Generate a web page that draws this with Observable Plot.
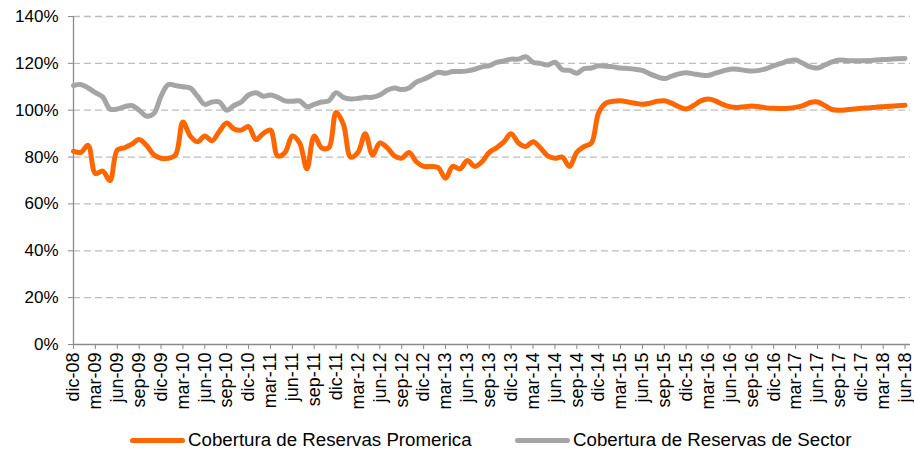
<!DOCTYPE html>
<html><head><meta charset="utf-8">
<script src="https://cdn.jsdelivr.net/npm/d3@7"></script>
<script src="https://cdn.jsdelivr.net/npm/@observablehq/plot@0.6"></script>
<style>
body{margin:0;background:#fff;font-family:"Liberation Sans",Arial,sans-serif;}
#legend{position:relative;height:40px;width:914px;}
.item{position:absolute;top:5px;height:40px;display:flex;align-items:center;font-size:18.7px;color:#000;white-space:nowrap;}
.sw{width:55px;height:5px;margin-right:3px;border-radius:2.5px;}
</style></head><body>
<div id="chart"></div>
<div id="legend"></div>
<script>
// Monthly values, dic-08 .. jun-18 (115 months)
const promerica = [
  82.5, 82, 85, 73, 74, 70, 83, 84, 85.5, 87.5, 85, 81, 79.5, 79.5, 81, 95, 89, 86.5, 89, 87, 91, 94.5, 92,
  91.5, 93, 87.5, 90, 91.5, 80.5, 82, 89, 86, 75, 89, 84, 84, 99, 94, 80, 82, 90, 81, 86, 84, 80.5, 79.5,
  82, 78, 76, 76, 75.5, 71, 76, 75, 78.5, 76, 78, 82, 84, 86.5, 90, 86, 84.5, 86.5, 84, 80.5, 79.5, 80, 76,
  82, 84.5, 86, 99, 103, 103.8, 104, 103.5, 103, 102.5, 103, 103.8, 104, 103, 101.5, 100.5, 102, 104, 104.8, 104, 102.5, 101.5,
  101.2, 101.5, 101.8, 101.5, 101, 100.8, 100.7, 100.8, 101.2, 102, 103.3, 103.5, 102, 100.3, 100, 100.2, 100.5, 100.8, 101, 101.3, 101.5, 101.7, 101.9, 102.1
];
const sector = [
  110.5, 111, 109.5, 107.5, 105.7, 100.5, 100.5, 101.5, 102, 100, 97.5, 98.5, 106, 111, 110.5, 110, 109.5, 106, 102.5, 103.5, 103.5, 100, 102,
  103.5, 106.5, 107.5, 106, 106.5, 105.5, 104, 103.8, 104, 101.5, 102.5, 103.5, 104, 107.5, 105.5, 104.8, 105, 105.5, 105.5, 106.5, 108.5, 109.5, 108.8,
  109.5, 112, 113.2, 114.7, 116.2, 115.8, 116.5, 116.5, 116.8, 117.5, 118.5, 119, 120.4, 121, 121.8, 121.8, 122.8, 120.5, 120, 119.3, 120.5, 117.3, 117,
  115.8, 117.8, 118, 119, 118.8, 118.5, 118, 117.8, 117.5, 117, 115.5, 114.3, 113.5, 114.5, 115.5, 116, 115.5, 115, 114.8, 115.8, 116.7, 117.5,
  117.5, 117, 116.7, 117, 117.8, 119, 120, 121, 121.4, 120, 118.5, 118, 119.3, 120.6, 121.4, 121.2, 121.1, 121.1, 121.2, 121.4, 121.6, 121.8, 122, 122.1
];
const tickLabels = [
  "dic-08","mar-09","jun-09","sep-09","dic-09","mar-10","jun-10","sep-10","dic-10","mar-11","jun-11","sep-11","dic-11",
  "mar-12","jun-12","sep-12","dic-12","mar-13","jun-13","sep-13","dic-13","mar-14","jun-14","sep-14","dic-14",
  "mar-15","jun-15","sep-15","dic-15","mar-16","jun-16","sep-16","dic-16","mar-17","jun-17","sep-17","dic-17","mar-18","jun-18"
];
const yTicks = [0, 20, 40, 60, 80, 100, 120, 140];
const seriesNames = ["Cobertura de Reservas Promerica", "Cobertura de Reservas de Sector"];
const colors = ["#ff6600", "#a5a5a5"];

const xTickIdx = tickLabels.map((_, k) => k * 3);

const chart = Plot.plot({
  width: 914, height: 415,
  marginLeft: 73, marginRight: 4, marginTop: 16, marginBottom: 71,
  style: {fontFamily: "Liberation Sans, Arial, sans-serif", fontSize: "17px", color: "#000", background: "#fff"},
  x: {type: "linear", domain: [0, 114.75]},
  y: {domain: [0, 140]},
  marks: [
    Plot.gridY(yTicks.filter(d => d > 0), {stroke: "#bdbdbd", strokeOpacity: 1, strokeWidth: 1.3, strokeDasharray: "7,4"}),
    Plot.ruleX([0], {stroke: "#8a8a8a", strokeWidth: 1.3}),
    Plot.ruleY([0], {stroke: "#8a8a8a", strokeWidth: 1.3}),
    Plot.axisY(yTicks, {tickFormat: d => d + "%", tickSize: 5, tickPadding: 10, stroke: "#8a8a8a", fill: "#000", fontSize: 17}),
    Plot.axisX(xTickIdx, {tickFormat: d => tickLabels[Math.round(d / 3)], tickRotate: -90, tickSize: 5, tickPadding: 3, stroke: "#8a8a8a", fill: "#000", fontSize: 18}),
    Plot.line(sector, {x: (d, i) => i, y: d => d, stroke: colors[1], strokeWidth: 5, curve: "catmull-rom"}),
    Plot.line(promerica, {x: (d, i) => i, y: d => d, stroke: colors[0], strokeWidth: 5, curve: "catmull-rom"})
  ]
});
document.getElementById("chart").appendChild(chart);

const legend = document.getElementById("legend");
const lefts = [130, 515];
seriesNames.forEach((name, k) => {
  const it = document.createElement("div");
  it.className = "item";
  it.style.left = lefts[k] + "px";
  const sw = document.createElement("span");
  sw.className = "sw";
  sw.style.background = colors[k];
  const tx = document.createElement("span");
  tx.textContent = name;
  it.appendChild(sw); it.appendChild(tx);
  legend.appendChild(it);
});
</script>
</body></html>
